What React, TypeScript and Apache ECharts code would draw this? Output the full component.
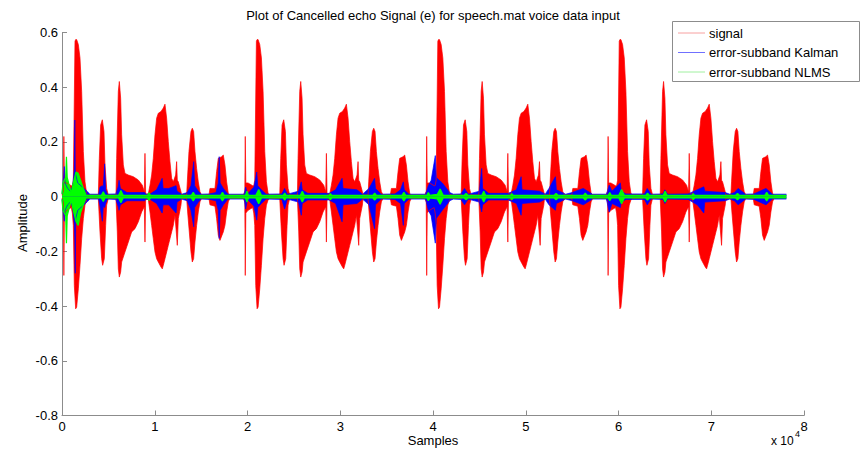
import React, { useEffect, useRef } from "react";
import * as echarts from "echarts";

// The speech utterance repeats four times; each repetition starts at these sample offsets.
const blockOffsets = [0, 19560, 39120, 58680];
const signalEnd = 78100;

// Red "signal" envelope of one utterance: [sample within utterance, value]
const signalTop: [number, number][] = [
  [0, 0.005], [150, 0.02], [200, 0.22], [260, 0.05], [500, 0.05], [1000, 0.04],
  [1114, 0.04], [1222, 0.06], [1400, 0.568], [1473, 0.574], [1581, 0.574], [1761, 0.556],
  [1940, 0.507], [2120, 0.385], [2300, 0.165], [2479, 0.054], [2659, 0.012], [2838, 0.006],
  [3916, 0.006], [4024, 0.14], [4168, 0.262], [4348, 0.281], [4527, 0.238], [4635, 0.116],
  [4815, 0.03], [4994, 0.006], [5821, 0.006], [5893, 0.14], [6072, 0.385], [6180, 0.421],
  [6324, 0.36], [6431, 0.226], [6611, 0.116], [6791, 0.085], [7150, 0.079], [7689, 0.073],
  [8228, 0.061], [8659, 0.042], [8875, 0.018], [8947, 0.158], [9018, 0.01], [9306, 0.01],
  [9486, 0.042], [9665, 0.079], [9845, 0.14], [10024, 0.226], [10204, 0.287], [10384, 0.305],
  [10671, 0.311], [10923, 0.324], [11102, 0.338], [11282, 0.287], [11462, 0.201], [11641, 0.128],
  [11821, 0.067], [12001, 0.054], [12252, 0.079], [12360, 0.128], [12432, 0.06], [12540, 0.054],
  [12827, 0.018], [12899, 0.006], [13438, 0.006], [13510, 0.054], [13689, 0.165], [13905, 0.238],
  [14049, 0.25], [14192, 0.238], [14336, 0.165], [14516, 0.103], [14695, 0.054], [14875, 0.018],
  [15055, 0.006], [15845, 0.006], [15953, 0.03], [16492, 0.03], [16671, 0.091], [16851, 0.14],
  [17210, 0.146], [17390, 0.152], [17570, 0.116], [17750, 0.054], [17929, 0.012], [18100, 0.006],
  [19559, 0.006],
];
const signalBottom: [number, number][] = [
  [0, -0.005], [150, -0.02], [200, -0.288], [260, -0.06], [500, -0.05], [1000, -0.04],
  [1114, -0.06], [1222, -0.105], [1329, -0.325], [1473, -0.41], [1581, -0.404], [1761, -0.337],
  [1940, -0.251], [2120, -0.154], [2300, -0.08], [2479, -0.031], [2659, -0.012], [2838, -0.006],
  [3916, -0.006], [4096, -0.129], [4276, -0.227], [4383, -0.251], [4563, -0.227], [4707, -0.105],
  [4815, -0.031], [4994, -0.006], [5821, -0.006], [5964, -0.129], [6072, -0.264], [6180, -0.294],
  [6324, -0.276], [6431, -0.239], [6791, -0.202], [7150, -0.166], [7509, -0.129], [7869, -0.117],
  [8228, -0.092], [8587, -0.056], [8875, -0.037], [8947, -0.166], [9018, -0.01], [9306, -0.01],
  [9486, -0.056], [9665, -0.105], [9845, -0.154], [10024, -0.202], [10204, -0.227], [10384, -0.239],
  [10671, -0.257], [10815, -0.264], [10923, -0.251], [11102, -0.227], [11462, -0.178], [11821, -0.129],
  [12001, -0.105], [12180, -0.068], [12432, -0.178], [12540, -0.08], [12827, -0.031], [12899, -0.006],
  [13438, -0.006], [13546, -0.056], [13725, -0.129], [13905, -0.202], [14049, -0.239], [14192, -0.227],
  [14336, -0.166], [14516, -0.105], [14695, -0.056], [14875, -0.019], [15055, -0.006], [15845, -0.006],
  [15953, -0.03], [16492, -0.035], [16671, -0.08], [16851, -0.141], [17031, -0.16], [17390, -0.129],
  [17570, -0.105], [17750, -0.056], [17929, -0.019], [18100, -0.006], [19559, -0.006],
];

// Blue "error-subband Kalman" envelope: [sample, top, bottom]
const kalmanEnv: [number, number, number][] = [
  [0, 0.009, -0.009], [120, 0.05, -0.05], [250, 0.11, -0.09], [330, 0.05, -0.05], [600, 0.03, -0.03], [900, 0.02, -0.02],
  [1150, 0.04, -0.04], [1330, 0.1, -0.1], [1380, 0.28, -0.15], [1430, 0.1, -0.28], [1480, 0.08, -0.08], [1700, 0.05, -0.05],
  [2200, 0.035, -0.035], [2700, 0.02, -0.02], [3000, 0.009, -0.009],
  [3950, 0.009, -0.009], [4100, 0.035, -0.035], [4350, 0.04, -0.09], [4450, 0.035, -0.035], [4600, 0.12, -0.04],
  [4700, 0.025, -0.025], [4900, 0.009, -0.009],
  [5800, 0.01, -0.01], [6050, 0.035, -0.035], [6150, 0.06, -0.05], [6300, 0.03, -0.03], [7000, 0.015, -0.015],
  [8900, 0.015, -0.015], [9100, 0.009, -0.009],
  [9500, 0.01, -0.01], [10200, 0.025, -0.025], [10800, 0.067, -0.06], [10900, 0.03, -0.03], [11500, 0.03, -0.03],
  [12300, 0.04, -0.06], [12400, 0.02, -0.02], [12900, 0.009, -0.009],
  [13500, 0.015, -0.015], [13900, 0.04, -0.05], [14200, 0.128, -0.11], [14300, 0.04, -0.04], [14700, 0.02, -0.02],
  [15000, 0.009, -0.009],
  [15900, 0.01, -0.01], [16600, 0.015, -0.015], [16850, 0.05, -0.05], [16950, 0.146, -0.153], [17050, 0.05, -0.05],
  [17400, 0.03, -0.03], [17900, 0.009, -0.009],
  [19650, 0.009, -0.009], [19800, 0.035, -0.045], [20000, 0.01, -0.01], [20700, 0.035, -0.035], [21000, 0.09, -0.086],
  [21100, 0.04, -0.04], [21500, 0.025, -0.025], [22000, 0.009, -0.009],
  [23700, 0.01, -0.01], [24000, 0.03, -0.045], [24300, 0.009, -0.009],
  [25500, 0.02, -0.02], [25800, 0.054, -0.068], [25900, 0.025, -0.025], [26500, 0.012, -0.012], [28800, 0.012, -0.012],
  [29500, 0.025, -0.025], [30200, 0.067, -0.092], [30300, 0.03, -0.03], [31800, 0.025, -0.025], [32400, 0.009, -0.009],
  [33100, 0.03, -0.03], [33700, 0.067, -0.117], [33800, 0.03, -0.03], [34400, 0.009, -0.009],
  [35900, 0.01, -0.01], [36500, 0.025, -0.025], [36800, 0.054, -0.105], [36900, 0.025, -0.025], [37400, 0.009, -0.009],
  [39200, 0.009, -0.009], [39500, 0.04, -0.05], [39800, 0.06, -0.07], [40250, 0.15, -0.17], [40350, 0.07, -0.08],
  [41000, 0.05, -0.05], [41800, 0.015, -0.015], [42200, 0.009, -0.009],
  [43000, 0.01, -0.01], [43400, 0.03, -0.03], [43800, 0.009, -0.009],
  [45000, 0.02, -0.02], [45250, 0.103, -0.056], [45350, 0.03, -0.03], [46000, 0.012, -0.012], [48100, 0.012, -0.012],
  [49000, 0.025, -0.025], [49500, 0.073, -0.068], [49600, 0.025, -0.025], [51500, 0.02, -0.02], [52100, 0.009, -0.009],
  [52500, 0.03, -0.03], [53200, 0.073, -0.05], [53300, 0.025, -0.025], [54300, 0.009, -0.009],
  [55000, 0.015, -0.015], [56200, 0.03, -0.03], [57200, 0.009, -0.009],
  [58700, 0.009, -0.009], [59000, 0.042, -0.056], [59300, 0.02, -0.025], [60200, 0.05, -0.04], [60300, 0.02, -0.02],
  [60800, 0.01, -0.01],
  [62800, 0.01, -0.01], [63100, 0.03, -0.03], [63500, 0.009, -0.009],
  [64800, 0.01, -0.01], [65000, 0.025, -0.025], [65300, 0.009, -0.009],
  [67500, 0.01, -0.01], [68500, 0.025, -0.03], [69200, 0.036, -0.06], [69300, 0.02, -0.02], [71500, 0.015, -0.015],
  [72000, 0.009, -0.009],
  [72500, 0.015, -0.015], [72900, 0.03, -0.03], [73700, 0.009, -0.009],
  [74600, 0.01, -0.01], [75900, 0.03, -0.03], [76600, 0.009, -0.009],
  [78100, 0.009, -0.009],
];

// Green "error-subband NLMS" envelope: [sample, top, bottom]
const nlmsEnv: [number, number, number][] = [
  [0, 0.01, -0.01], [100, 0.05, -0.05], [400, 0.07, -0.07], [480, 0.146, -0.17], [560, 0.07, -0.07],
  [860, 0.03, -0.03], [1000, 0.012, -0.012], [1150, 0.04, -0.04], [1500, 0.09, -0.09], [1750, 0.085, -0.105],
  [2000, 0.06, -0.06], [2300, 0.03, -0.03], [2600, 0.005, -0.005],
  [4250, 0.005, -0.005], [4450, 0.018, -0.018], [4650, 0.005, -0.005],
  [6100, 0.005, -0.005], [6350, 0.022, -0.022], [6600, 0.005, -0.005],
  [9230, 0.005, -0.005], [9380, 0.014, -0.014], [9530, 0.005, -0.005],
  [13950, 0.005, -0.005], [14150, 0.016, -0.016], [14350, 0.005, -0.005],
  [17100, 0.005, -0.005], [17300, 0.016, -0.016], [17500, 0.005, -0.005],
  [19780, 0.005, -0.005], [19940, 0.02, -0.02], [20100, 0.005, -0.005],
  [20900, 0.005, -0.005], [21210, 0.026, -0.026], [21500, 0.005, -0.005],
  [23850, 0.005, -0.005], [24010, 0.013, -0.013], [24170, 0.005, -0.005],
  [25700, 0.005, -0.005], [25910, 0.02, -0.02], [26120, 0.005, -0.005],
  [28790, 0.005, -0.005], [28940, 0.011, -0.011], [29090, 0.005, -0.005],
  [33510, 0.005, -0.005], [33710, 0.013, -0.013], [33910, 0.005, -0.005],
  [36660, 0.005, -0.005], [36860, 0.016, -0.016], [37060, 0.005, -0.005],
  [39330, 0.005, -0.005], [39500, 0.015, -0.015], [39670, 0.005, -0.005],
  [40450, 0.008, -0.008], [40770, 0.028, -0.028], [41100, 0.005, -0.005],
  [43370, 0.005, -0.005], [43570, 0.012, -0.012], [43770, 0.005, -0.005],
  [45270, 0.005, -0.005], [45470, 0.02, -0.02], [45670, 0.005, -0.005],
  [48350, 0.005, -0.005], [48500, 0.011, -0.011], [48650, 0.005, -0.005],
  [53070, 0.005, -0.005], [53270, 0.012, -0.012], [53470, 0.005, -0.005],
  [56220, 0.005, -0.005], [56420, 0.013, -0.013], [56620, 0.005, -0.005],
  [58890, 0.005, -0.005], [59060, 0.015, -0.015], [59230, 0.005, -0.005],
  [60030, 0.005, -0.005], [60330, 0.026, -0.026], [60630, 0.005, -0.005],
  [62930, 0.005, -0.005], [63130, 0.013, -0.013], [63330, 0.005, -0.005],
  [64830, 0.005, -0.005], [65030, 0.02, -0.02], [65230, 0.005, -0.005],
  [67910, 0.005, -0.005], [68060, 0.011, -0.011], [68210, 0.005, -0.005],
  [72630, 0.005, -0.005], [72830, 0.012, -0.012], [73030, 0.005, -0.005],
  [75780, 0.005, -0.005], [75980, 0.016, -0.016], [76180, 0.005, -0.005],
  [78100, 0.005, -0.005],
];

const seriesNames = ["signal", "error-subband Kalman", "error-subband NLMS"];
const seriesColors = ["#ff0000", "#0000ff", "#00ff00"];
const lineWidths = [0.7, 0.7, 1.2];
const legendColors = ["#f7a0a0", "#7070ff", "#a0f0a0"];

const titleText = "Plot of Cancelled echo Signal (e) for speech.mat voice data input";
const xTitle = "Samples";
const yTitle = "Amplitude";

const FONT = "'Liberation Sans', Arial, Helvetica, sans-serif";

function repeatBlocks(env: [number, number][]): [number, number][] {
  const out: [number, number][] = [];
  for (const off of blockOffsets) {
    for (const [s, v] of env) {
      const x = s + off;
      if (x <= signalEnd) out.push([x, v]);
    }
  }
  return out;
}

export default function App() {
  const ref = useRef<HTMLDivElement>(null);
  useEffect(() => {
    if (!ref.current) return;
    const chart = echarts.init(ref.current, null, { renderer: "svg" });
    const mk = (i: number, data: [number, number][]) => ({
      type: "line",
      name: seriesNames[i],
      data,
      showSymbol: false,
      symbol: "none",
      silent: true,
      lineStyle: { width: lineWidths[i], color: seriesColors[i] },
      itemStyle: { color: seriesColors[i] },
      areaStyle: { color: seriesColors[i], opacity: 1 },
    });
    const sigTop = repeatBlocks(signalTop);
    const sigBot = repeatBlocks(signalBottom);
    const kTop = kalmanEnv.map(([s, t]) => [s, t] as [number, number]);
    const kBot = kalmanEnv.map(([s, , b]) => [s, b] as [number, number]);
    const nTop = nlmsEnv.map(([s, t]) => [s, t] as [number, number]);
    const nBot = nlmsEnv.map(([s, , b]) => [s, b] as [number, number]);

    const legendX = 672.5, legendY = 21.5;
    const legendChildren: any[] = [
      {
        type: "rect",
        shape: { x: legendX, y: legendY, width: 187, height: 60 },
        style: { fill: "#fff", stroke: "#8c8c8c", lineWidth: 1 },
      },
    ];
    seriesNames.forEach((n, i) => {
      const cy = 33 + i * 19.5;
      legendChildren.push({
        type: "line",
        shape: { x1: 678, y1: cy, x2: 705, y2: cy },
        style: { stroke: legendColors[i], lineWidth: 1 },
      });
      legendChildren.push({
        type: "text",
        x: 709,
        y: cy,
        style: { text: n, fill: "#000", font: `13px ${FONT}`, textAlign: "left", textVerticalAlign: "middle" },
      });
    });

    chart.setOption({
      animation: false,
      backgroundColor: "#fff",
      grid: { left: 62, top: 32.5, width: 742, height: 383, containLabel: false },
      xAxis: {
        type: "value",
        min: 0,
        max: 80000,
        interval: 10000,
        axisLine: { show: true, onZero: false, lineStyle: { color: "#8c8c8c", width: 1 } },
        axisTick: { show: true, inside: true, length: 5, lineStyle: { color: "#8c8c8c" } },
        splitLine: { show: false },
        axisLabel: {
          margin: 4,
          color: "#000",
          fontSize: 13,
          fontFamily: FONT,
          formatter: (v: number) => String(Math.round(v / 10000)),
        },
      },
      yAxis: {
        type: "value",
        min: -0.8,
        max: 0.6,
        interval: 0.2,
        axisLine: { show: true, onZero: false, lineStyle: { color: "#8c8c8c", width: 1 } },
        axisTick: { show: true, inside: true, length: 5, lineStyle: { color: "#8c8c8c" } },
        splitLine: { show: false },
        axisLabel: {
          margin: 4,
          color: "#000",
          fontSize: 13,
          fontFamily: FONT,
          formatter: (v: number) => {
            const r = Math.round(v * 10) / 10;
            return r === 0 ? "0" : String(r);
          },
        },
      },
      series: [
        mk(0, sigTop),
        mk(0, sigBot),
        mk(1, kTop),
        mk(1, kBot),
        mk(2, nTop),
        mk(2, nBot),
      ],
      graphic: [
        {
          type: "text",
          x: 433,
          y: 15,
          style: { text: titleText, fill: "#000", font: `13px ${FONT}`, textAlign: "center", textVerticalAlign: "middle" },
        },
        {
          type: "text",
          x: 433,
          y: 440,
          style: { text: xTitle, fill: "#000", font: `13px ${FONT}`, textAlign: "center", textVerticalAlign: "middle" },
        },
        {
          type: "text",
          x: 22,
          y: 223,
          rotation: Math.PI / 2,
          style: { text: yTitle, fill: "#000", font: `13px ${FONT}`, textAlign: "center", textVerticalAlign: "middle" },
        },
        {
          type: "text",
          x: 771,
          y: 441,
          style: { text: "x 10", fill: "#000", font: `12px ${FONT}`, textAlign: "left", textVerticalAlign: "middle" },
        },
        {
          type: "text",
          x: 795,
          y: 434,
          style: { text: "4", fill: "#000", font: `9px ${FONT}`, textAlign: "left", textVerticalAlign: "middle" },
        },
        { type: "group", z: 100, children: legendChildren },
      ],
    });
    return () => chart.dispose();
  }, []);
  return (
    <div
      ref={ref}
      style={{ position: "absolute", left: 0, top: 0, width: 862, height: 459 }}
    />
  );
}
